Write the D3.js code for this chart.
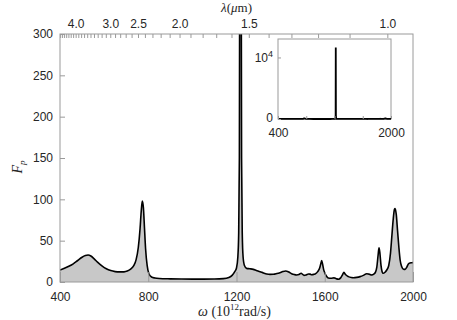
<!DOCTYPE html>
<html>
<head>
<meta charset="utf-8">
<script src="https://cdn.jsdelivr.net/npm/d3@7"></script>
<style>
  html, body { margin: 0; padding: 0; background: #fff; }
  svg { display: block; }
  .tick text { font-family: "Liberation Sans", Arial, sans-serif; font-size: 12px; fill: #262626; }
</style>
</head>
<body>
<svg id="chart" width="457" height="320"></svg>
<script>
// ---- data ----
const omega = [400,420,440,460,480,500,515,527,540,555,570,590,610,630,650,670,690,705,720,735,745,755,763,768,773,778,783,788,795,803,815,830,850,900,950,1000,1050,1100,1140,1165,1180,1192,1200,1206,1210,1213,1216,1218,1220,1223,1226,1230,1236,1246,1260,1276,1290,1307,1322,1337,1352,1367,1383,1397,1410,1423,1437,1450,1462,1473,1483,1493,1500,1506,1516,1526,1534,1541,1550,1556,1568,1577,1582,1586,1590,1595,1601,1608,1616,1630,1642,1652,1662,1672,1680,1687,1694,1707,1720,1730,1745,1760,1775,1790,1800,1813,1822,1830,1836,1842,1846,1850,1855,1860,1865,1872,1881,1890,1898,1904,1910,1916,1919,1924,1930,1936,1942,1949,1957,1964,1972,1979,1986,1994,2000];
const Fp = [14.5,16.5,19,22,26,30,32,32.7,31.5,28,24,19.5,16,13.8,12.6,12.2,12.3,13.2,15.5,20,27,42,65,85,98,90,65,40,20,10,6,4.8,4.2,3.8,3.6,3.5,3.5,3.6,4.1,5.5,8,12.5,17,30,60,150,600,11600,600,150,60,30,20,16.5,16,15.3,14,12.5,11,9.7,9.2,9.3,10.2,11.3,12.6,13.3,12,10,9,8.5,9,10.5,9.2,8,8.6,9.7,9.5,8.8,9.2,9.7,12.5,17,22,25.8,22,15,10.5,7,4.8,4.5,5,4,3.3,5,8.5,11.7,9,6.5,5.4,5.2,5.6,6.5,8,10,9.5,8.5,9.5,12,18,33,41.5,35,20,12.5,10.5,11.5,14.5,20,35,55,75,88,89,82,62,42,26,18.5,15.5,15.3,18,21.8,23,23.3,23.5];

const xTicks = [400, 800, 1200, 1600, 2000];
const yTicks = [0, 50, 100, 150, 200, 250, 300];
const lambdaTicks = [1.0,1.1,1.2,1.3,1.4,1.5,1.6,1.7,1.8,1.9,2.0,2.1,2.2,2.3,2.4,2.5,2.6,2.7,2.8,2.9,3.0,3.1,3.2,3.3,3.4,3.5,3.6,3.7,3.8,3.9,4.0,4.1,4.2,4.3,4.4,4.5,4.6,4.7];
const lambdaLabels = [4.0, 3.0, 2.5, 2.0, 1.5, 1.0];
const insetXTicks = [400, 800, 1200, 1600, 2000];
const insetXLabels = [400, 2000];
const insetYTicks = [0, 10000];

// ---- drawing ----
const data = omega.map((w, i) => ({ w, f: Fp[i] }));
const svg = d3.select("#chart");
const frame = "#9a9a9a";
const L = 60, R = 413, T = 34, B = 282;

const x = d3.scaleLinear().domain([400, 2000]).range([L, R]);
const y = d3.scaleLinear().domain([0, 300]).range([B, T]);
const toOmega = lam => 2 * Math.PI * 2.998e8 / (lam * 1e-6) / 1e12;

svg.append("clipPath").attr("id", "clip")
  .append("rect").attr("x", L).attr("y", T).attr("width", R - L).attr("height", B - T);

const g = svg.append("g").attr("clip-path", "url(#clip)");
g.append("path").datum(data)
  .attr("fill", "#c8c8c8")
  .attr("d", d3.area().x(d => x(d.w)).y0(y(0)).y1(d => y(d.f)).curve(d3.curveMonotoneX));
g.append("path").datum(data)
  .attr("fill", "none").attr("stroke", "#000").attr("stroke-width", 1.6).attr("stroke-linejoin", "round")
  .attr("d", d3.line().x(d => x(d.w)).y(d => y(d.f)).curve(d3.curveMonotoneX));

// frame
svg.append("rect").attr("x", L).attr("y", T).attr("width", R - L).attr("height", B - T)
  .attr("fill", "none").attr("stroke", frame).attr("stroke-width", 1);

function styleAxis(sel) {
  sel.select(".domain").remove();
  sel.selectAll(".tick line").attr("stroke", frame);
}

// bottom axis
svg.append("g").attr("transform", `translate(0,${B})`)
  .call(d3.axisBottom(x).tickValues(xTicks).tickSize(-10).tickPadding(10).tickFormat(d3.format("d")))
  .call(styleAxis);

// left axis
svg.append("g").attr("transform", `translate(${L},0)`)
  .call(d3.axisLeft(y).tickValues(yTicks).tickSize(-5).tickPadding(7))
  .call(styleAxis);

// top axis (wavelength)
svg.append("g").attr("transform", `translate(0,${T})`)
  .call(d3.axisTop(x).tickValues(lambdaTicks.map(toOmega)).tickSize(-4).tickPadding(6)
    .tickFormat((d, i) => lambdaLabels.includes(lambdaTicks[i]) ? lambdaTicks[i].toFixed(1) : ""))
  .call(styleAxis);

// axis titles
const serif = "'Liberation Serif', 'DejaVu Serif', serif";
const xt = svg.append("text").attr("x", (L + R) / 2 - 2).attr("y", 316).attr("text-anchor", "middle")
  .attr("font-family", serif).attr("font-size", 14).attr("fill", "#262626");
xt.append("tspan").attr("font-style", "italic").text("ω");
xt.append("tspan").text(" (10");
xt.append("tspan").attr("font-size", 9).attr("dy", -6).text("12");
xt.append("tspan").attr("dy", 6).text("rad/s)");

const lt = svg.append("text").attr("x", (L + R) / 2).attr("y", 12).attr("text-anchor", "middle")
  .attr("font-family", serif).attr("font-size", 13).attr("fill", "#262626");
lt.append("tspan").attr("font-style", "italic").text("λ");
lt.append("tspan").text("(");
lt.append("tspan").attr("font-style", "italic").text("μ");
lt.append("tspan").text("m)");

const yt = svg.append("text").attr("transform", "translate(22,167) rotate(-90)").attr("text-anchor", "middle")
  .attr("font-family", serif).attr("font-size", 14).attr("fill", "#262626");
yt.append("tspan").attr("font-style", "italic").text("F");
yt.append("tspan").attr("font-style", "italic").attr("font-size", 9).attr("dy", 3).text("p");

// ---- inset ----
const iL = 278, iR = 391, iT = 39, iB = 119;
const xi = d3.scaleLinear().domain([400, 2000]).range([iL, iR]);
const yi = d3.scaleLinear().domain([0, 13000]).range([iB, iT]);
svg.append("rect").attr("x", iL).attr("y", iT).attr("width", iR - iL).attr("height", iB - iT)
  .attr("fill", "#fff").attr("stroke", frame).attr("stroke-width", 1);
svg.append("clipPath").attr("id", "clipi")
  .append("rect").attr("x", iL - 1).attr("y", iT).attr("width", iR - iL + 2).attr("height", iB - iT + 2);
svg.append("g").attr("clip-path", "url(#clipi)").append("path").datum(data)
  .attr("fill", "none").attr("stroke", "#000").attr("stroke-width", 1.8)
  .attr("d", d3.line().x(d => xi(d.w)).y(d => yi(d.f)));

svg.append("g").attr("transform", `translate(0,${iB})`)
  .call(d3.axisBottom(xi).tickValues(insetXTicks).tickSize(-3).tickPadding(9)
    .tickFormat(d => insetXLabels.includes(d) ? d : ""))
  .call(styleAxis);
const iy = svg.append("g").attr("transform", `translate(${iL},0)`)
  .call(d3.axisLeft(yi).tickValues(insetYTicks).tickSize(-3).tickPadding(5).tickFormat(() => ""))
  .call(styleAxis);
iy.selectAll(".tick text").each(function (d) {
  const t = d3.select(this);
  if (d === 0) { t.text("0").attr("dy", "0.2em"); }
  else {
    t.append("tspan").text("10");
    t.append("tspan").attr("font-size", 9).attr("dy", -5).text("4");
  }
});
</script>
</body>
</html>
